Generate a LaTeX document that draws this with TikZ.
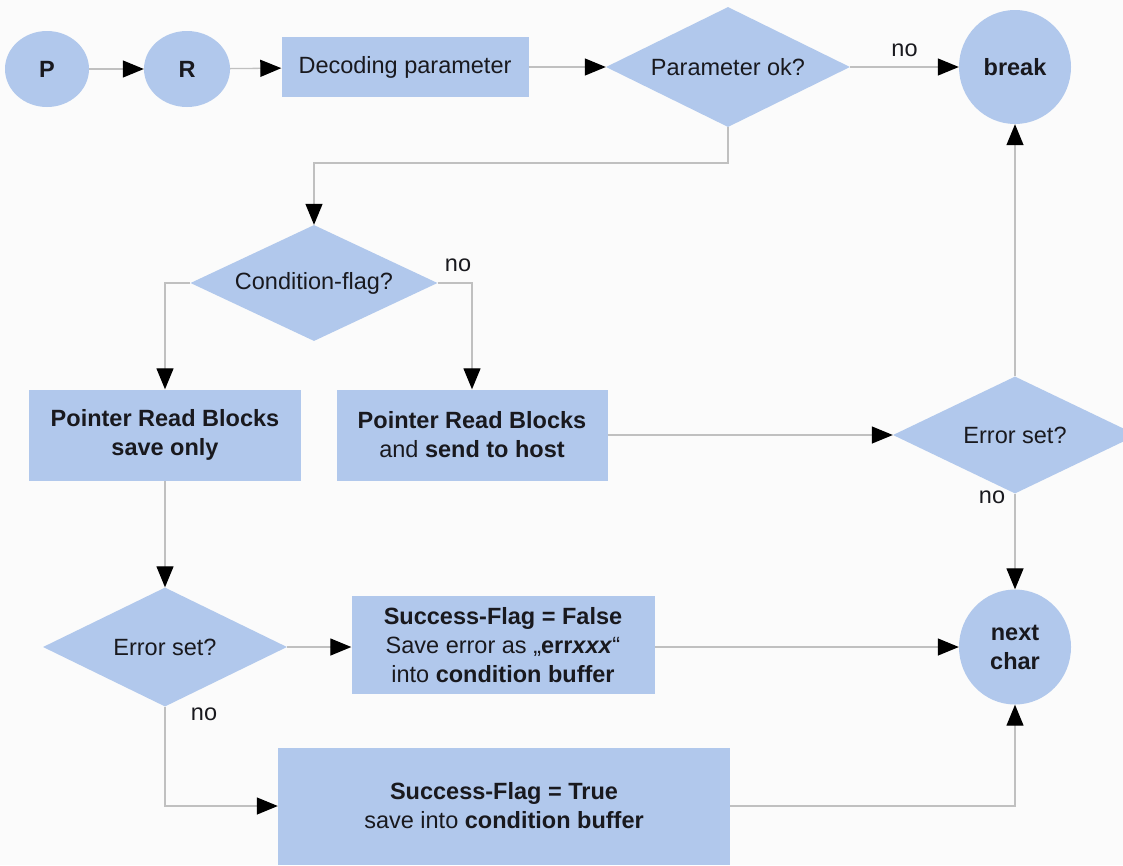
\documentclass[tikz,border=0pt]{standalone}
\usepackage{fontspec}
\setmainfont{Liberation Sans}
\usetikzlibrary{shapes.geometric,arrows.meta}
\definecolor{boxblue}{RGB}{177,200,236}
\definecolor{lineg}{RGB}{192,192,192}
\definecolor{bgc}{RGB}{251,251,251}
\definecolor{txt}{RGB}{25,25,30}
\begin{document}
\begin{tikzpicture}[x=1pt,y=-1pt,
  every node/.style={font=\fontsize{23.5}{29}\selectfont, text=txt},
  blk/.style={fill=boxblue, draw=none, inner sep=0pt, align=center},
  rbox/.style={blk, rectangle},
  dia/.style={blk, diamond, aspect=2},
  circ/.style={blk, ellipse},
  conn/.style={draw=lineg, line width=1.3pt},
  arr/.style={conn, -{Triangle[length=21pt,width=17pt,color=black]}},
  lbl/.style={inner sep=0pt}]
\useasboundingbox (0,0) rectangle (1123,865);
\fill[bgc] (0,0) rectangle (1123,865);

% top row
\node[circ, minimum width=84pt, minimum height=76pt] (P) at (47,69) {\textbf{P}};
\node[circ, minimum width=86pt, minimum height=76pt] (R) at (187,69) {\textbf{R}};
\node[rbox, minimum width=247pt, minimum height=60pt] (dec) at (405,67) {Decoding parameter};
\node[dia, minimum width=244pt, minimum height=120pt] (pok) at (728,67) {Parameter ok?};
\node[circ, minimum width=112pt, minimum height=114pt] (brk) at (1015,67) {\textbf{break}};

% condition
\node[dia, minimum width=247pt, minimum height=116pt] (cond) at (314,283) {Condition-flag?};
\node[rbox, minimum width=272pt, minimum height=91pt] (b1) at (165,435) {\textbf{Pointer Read Blocks}\\\textbf{save only}};
\node[rbox, minimum width=271pt, minimum height=91pt] (b2) at (472,435) {\textbf{Pointer Read Blocks}\\and \textbf{send to host}};
\node[dia, minimum width=244pt, minimum height=117pt] (err2) at (1015,435) {Error set?};

% lower part
\node[dia, minimum width=244pt, minimum height=119pt] (err1) at (165,647) {Error set?};
\node[rbox, minimum width=303pt, minimum height=98pt] (bf) at (503,645) {\textbf{Success-Flag = False}\\Save error as „\textbf{err\textit{xxx}}“\\into \textbf{condition buffer}};
\node[circ, minimum width=112pt, minimum height=115pt] (nxt) at (1015,647) {\textbf{next}\\\textbf{char}};
\node[rbox, minimum width=452pt, minimum height=117pt] (bt) at (504,806) {\textbf{Success-Flag = True}\\save into \textbf{condition buffer}};

% connectors
\draw[arr] (P) -- (R);
\draw[arr] (R) -- (dec);
\draw[arr] (dec) -- (pok.west);
\draw[arr] (pok.east) -- node[lbl, above=10pt] {no} (brk.west);
\coordinate (c1) at (728,163);
\draw[arr] (pok.south) -- (c1) -| (cond.north);
\draw[arr] (cond.west) -| (b1.north);
\draw[arr] (cond.east) -| (b2.north);
\node[lbl] at (458,265) {no};
\draw[arr] (b2.east) -- (err2.west);
\draw[arr] (err2.north) -- (brk.south);
\draw[arr] (err2.south) -- (nxt.north);
\node[lbl] at (992,497) {no};
\draw[arr] (b1.south) -- (err1.north);
\draw[arr] (err1.east) -- (bf.west |- err1.east);
\draw[arr] (bf.east |- nxt.west) -- (nxt.west);
\draw[arr] (err1.south) |- (bt.west);
\node[lbl] at (204,714) {no};
\draw[arr] (bt.east) -| (nxt.south);
\end{tikzpicture}
\end{document}
